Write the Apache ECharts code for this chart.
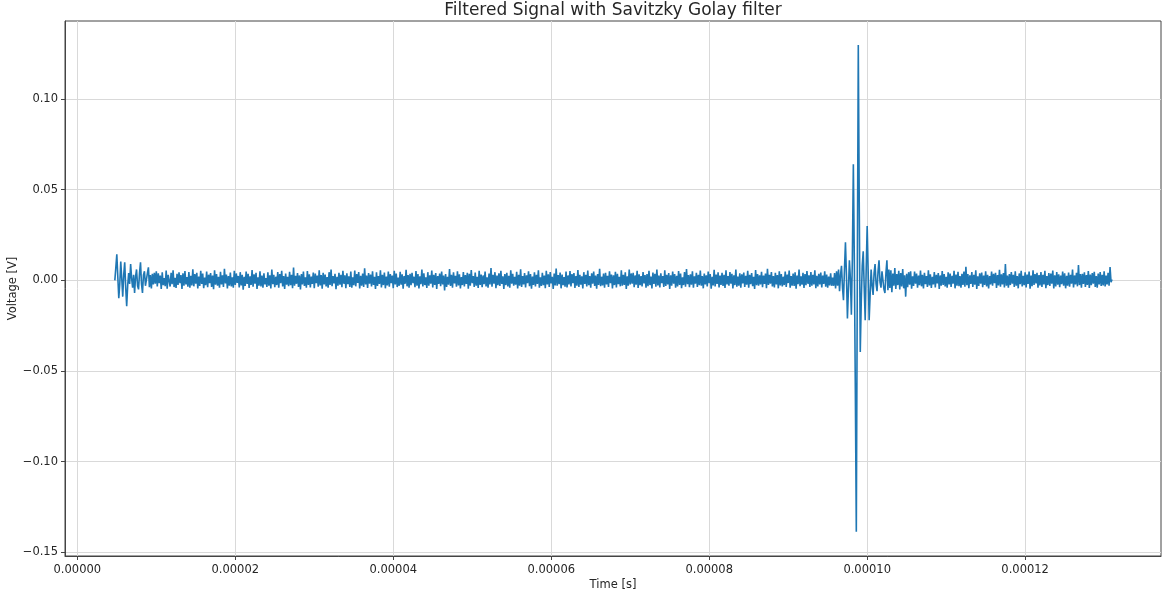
<!DOCTYPE html>
<html>
<head>
<meta charset="utf-8">
<script src="https://cdn.jsdelivr.net/npm/echarts@6/dist/echarts.min.js"></script>
<style>
  html, body { margin: 0; padding: 0; background: #fff; }
  #chart { width: 1163px; height: 592px; }
</style>
</head>
<body>
<div id="chart"></div>
<script>
// chart texts and ticks
const chartTitle = 'Filtered Signal with Savitzky Golay filter';
const xName = 'Time [s]';
const yName = 'Voltage [V]';
const xTicks = [0, 0.00002, 0.00004, 0.00006, 0.00008, 0.0001, 0.00012];
const yTicks = [-0.15, -0.10, -0.05, 0, 0.05, 0.10];

// sampling of the signal (seconds)
const sampleStart = 4.75e-6;
const sampleStep = 1.25e-7;

// filtered voltage, in millivolts
// start-up ringing
const startSegment = [
  0, 7, 14.3, 2, -9.8, -2, 10.3, 1, -9.0, 3, 9.9, -4, -14.2, -3, 4.0, -2, 9.0, 1, -4.0, 3,
  -7.0, 2, 6.0, -3, -5.0, 4, 9.9, -2, -7.0, 3, 5.0, -3, -4.0, 4, 7.2
];
// quiet part before the burst
const quietSegment = [
  -3.8, 2.9, -4.5, 3.6, -2.2, 4.1, -1.8, 5.0, -3.3, 3.9, -1.6, 2.6, -4.8, 4.4, -2.7, 1.2, -3.2, 5.4, -4.6, 3.0,
  2.0, -3.4, 4.1, -2.1, 5.6, -3.7, 1.4, -4.2, 3.6, -2.5, 4.4, -1.6, 2.9, -4.8, 3.9, -3.0, 5.1, -2.3, 1.8, -3.5,
  4.6, -4.0, 2.5, -2.8, 6.1, -3.3, 3.4, -1.9, 4.2, -4.5, 2.1, -3.1, 5.3, -2.0, 3.7, -4.3, 1.5, -2.7, 4.9, -3.8,
  3.1, -1.5, 4.0, -3.6, 2.6, -4.9, 5.5, -2.4, 3.5, -3.0, 1.9, -4.1, 4.7, -2.2, 2.8, -3.7, 6.4, -1.7, 3.2, -4.4,
  2.3, -2.9, 4.3, -3.4, 1.7, -4.0, 5.2, -2.6, 3.8, -1.4, 2.4, -3.9, 4.5, -2.8, 3.0, -5.2, 2.0, -3.1, 4.8, -2.0,
  3.6, -4.2, 2.2, -2.5, 5.7, -3.5, 3.3, -1.8, 4.1, -4.7, 1.6, -2.9, 5.0, -3.3, 2.6, -4.0, 3.9, -2.2, 1.3, -3.6,
  4.4, -3.0, 2.8, -4.5, 6.0, -2.1, 3.1, -3.8, 2.0, -2.6, 4.6, -4.1, 3.5, -1.6, 5.3, -3.4, 2.3, -4.8, 3.8, -2.4,
  1.9, -3.2, 4.7, -2.7, 3.0, -4.3, 7.0, -3.0, 2.5, -1.9, 4.0, -3.6, 2.7, -5.0, 3.4, -2.3, 4.9, -3.1, 1.7, -4.0,
  5.1, -2.5, 3.3, -3.9, 2.1, -2.0, 4.3, -4.4, 3.7, -1.5, 2.6, -3.5, 5.5, -2.8, 2.9, -4.6, 4.1, -2.2, 3.2, -3.3,
  1.8, -4.1, 4.5, -2.6, 5.9, -3.2, 2.4, -1.7, 3.6, -4.9, 2.0, -3.0, 4.2, -2.4, 3.1, -3.8, 5.2, -1.9, 2.8, -4.3,
  3.9, -2.1, 2.2, -3.6, 4.8, -4.0, 1.6, -2.7, 5.4, -3.3, 3.4, -1.4, 4.6, -4.5, 2.5, -2.9, 3.7, -3.7, 6.6, -2.3,
  2.7, -4.2, 4.0, -1.8, 3.2, -3.4, 5.0, -2.5, 1.9, -4.7, 4.4, -3.1, 2.3, -2.0, 5.6, -3.9, 3.0, -2.6, 4.3, -4.4,
  2.1, -2.8, 4.9, -3.5, 3.5, -1.6, 2.6, -4.3, 5.3, -2.2, 3.8, -3.7, 1.5, -3.0, 4.7, -2.4, 3.3, -4.6, 2.4, -1.9,
  5.8, -3.3, 2.9, -4.0, 3.6, -2.7, 4.2, -1.5, 2.0, -3.8, 5.1, -2.9, 3.4, -4.5, 2.2, -2.1, 6.0, -3.4, 3.9, -2.6,
  1.7, -4.2, 4.5, -3.0, 2.8, -1.8, 5.4, -3.9, 3.1, -2.5, 4.0, -4.7, 2.3, -2.0, 3.7, -3.2, 4.8, -2.3, 2.6, -5.6,
  3.5, -3.6, 2.0, -2.4, 6.2, -3.1, 3.0, -4.1, 4.4, -1.7, 2.5, -3.5, 5.0, -2.8, 3.3, -4.4, 1.8, -2.6, 4.6, -3.3,
  2.9, -2.0, 4.1, -4.6, 3.6, -2.9, 5.7, -1.6, 2.4, -3.7, 4.3, -3.0, 2.0, -4.2, 5.2, -2.5, 3.2, -3.8, 2.7, -2.1,
  4.9, -3.4, 1.6, -4.0, 3.8, -2.2, 6.8, -3.5, 3.0, -1.9, 4.5, -4.3, 2.6, -2.7, 3.9, -3.1, 5.3, -2.0, 2.2, -4.8,
  3.4, -2.6, 4.2, -3.3, 2.5, -4.1, 5.5, -1.8, 3.6, -3.0, 1.9, -2.4, 4.7, -4.5, 3.1, -2.9, 6.1, -3.6, 2.3, -2.2,
  4.0, -3.9, 2.8, -1.5, 5.0, -3.2, 3.5, -4.6, 2.1, -2.5, 4.4, -3.4, 3.0, -2.0, 5.6, -4.0, 1.7, -3.1, 4.1, -2.7,
  2.6, -4.3, 5.2, -2.3, 3.3, -3.6, 4.6, -1.7, 2.0, -4.8, 3.7, -2.8, 6.5, -3.0, 2.9, -2.1, 4.3, -4.4, 3.2, -2.6,
  1.8, -3.5, 4.8, -3.9, 2.7, -2.2, 5.1, -3.3, 3.4, -1.6, 4.0, -4.2, 2.4, -2.9, 5.7, -3.7, 3.1, -2.4, 2.2, -4.5,
  4.5, -2.0, 3.0, -3.4, 5.4, -2.7, 2.3, -4.0, 3.9, -1.9, 4.9, -3.1, 2.6, -4.6, 3.5, -2.5, 6.3, -3.2, 2.0, -2.8,
  3.7, -4.1, 4.2, -2.3, 2.5, -3.6, 5.0, -1.5, 3.2, -4.4, 2.8, -2.6, 4.7, -3.9, 3.6, -2.1, 1.9, -3.3, 5.5, -2.9,
  3.0, -2.5, 4.4, -4.7, 2.2, -3.0, 5.9, -2.2, 3.8, -1.8, 4.1, -3.8, 2.7, -2.4, 5.3, -4.2, 3.3, -2.7, 2.4, -3.4,
  4.6, -1.7, 2.9, -4.0, 3.5, -3.2, 5.2, -2.6, 2.1, -4.5, 4.3, -2.0, 3.6, -3.5, 6.0, -2.8, 2.6, -3.9, 3.9, -1.6,
  2.3, -3.7, 5.6, -3.1, 3.1, -2.3, 4.0, -4.8, 2.8, -2.9, 4.8, -1.9, 3.4, -4.1, 2.5, -3.3, 5.1, -2.5, 3.7, -4.3,
  1.6, -2.6, 4.5, -3.5, 6.2, -2.1, 2.9, -3.8, 3.3, -2.4, 5.0, -4.0, 2.2, -1.8, 4.2, -3.6, 3.0, -2.7, 5.4, -3.0,
  2.4, -4.4, 3.8, -2.2, 2.7, -3.3, 4.9, -1.6, 3.5, -4.6, 2.0, -2.8, 5.8, -3.4, 3.2, -2.0, 4.4, -3.9, 2.6, -2.5,
  4.1, -3.1, 3.0, -4.2, 5.5, -2.3, 2.3, -3.0, 4.6, -1.9, 3.6, -4.5, 2.8, -2.6, 6.0, -3.5, 2.1, -2.9, 3.9, -4.0,
  3.3, -1.7, 4.3, -3.6, 2.5, -2.4, 5.2, -4.1, 3.1, -2.1, 4.0, -3.2, 1.9, -4.7, 5.7, -2.7, 3.4, -3.0, 2.7, -2.3,
  4.7, -3.8, 2.6, -2.0, 3.7, -4.3, 6.3, -2.5, 3.0, -1.8, 4.5, -3.4, 2.3, -3.9, 4.1, -2.2, 2.9, -4.4, 5.0, -2.8,
  3.5, -3.3, 2.0, -2.6, 4.8, -3.7, 3.2, -1.5, 5.4, -4.0, 2.4, -2.9, 3.8, -3.1, 4.4, -4.6, 2.7, -2.1, 6.0, -3.2,
  2.2, -2.4, 4.2, -4.2, 3.4, -2.7, 5.1, -1.9, 2.8, -3.6, 4.6, -3.0, 3.1, -2.3, 5.6, -4.3, 2.5, -3.4, 3.6, -2.2,
  4.3, -3.9, 2.6, -2.0, 5.0, -3.5, 3.2, -4.1, 2.1, -2.8, 3.9, -3.0, 1.5
];
// the burst near 0.0001 s
const burstSegment = [
  -3.0, 4.0, -4.5, 5.0, -3.0, 6.0, -6.0, 3.0, 8.0, -4.0, -11.0, 6.0, 21.0, 3.0, -21.0, -5.0, 11.0, 1.0, -19.0, 12.0,
  64.0, 10.0, -60.0, -138.6, 0.0, 129.8, 40.0, -39.5, -12.0, 8.0, 16.0, -4.0, -22.0, 6.0, 30.0, 5.0, -22.0, -8.0, 6.0, -3.0,
  -8.0, 4.0, 9.0, -2.0, -6.0, 5.0, 11.0, -1.0, -4.0, 5.0, 6.0, -5.0, -7.0, 4.0, 11.0
];
// quiet part after the burst
const tailSegment = [
  -5.5, 6.0, -4.2, 5.5, -6.5, 3.8, -3.0, 6.8, -4.8, 3.5, -2.6, 5.2, -5.0, 4.0, -3.4, 6.2, -4.4, 2.8, -9.0, 3.6,
  -3.8, 4.5, -2.4, 5.0, -4.6, 2.2, -3.1, 4.8, -1.9, 3.7, -4.0, 2.6, -2.7, 5.4, -3.3, 3.0, -4.5, 4.2, -2.1, 2.4,
  -3.6, 5.6, -2.8, 3.3, -4.2, 1.9, -2.3, 4.6, -3.9, 3.1, -1.7, 4.0, -4.8, 2.7, -3.0, 5.1, -2.5, 3.5, -3.4, 2.0,
  -4.1, 4.4, -2.2, 3.8, -3.7, 2.5, -1.8, 5.3, -4.4, 3.2, -2.9, 4.7, -3.2, 2.3, -4.0, 3.6, -2.6, 4.9, -3.5, 7.5,
  -2.7, 3.4, -4.3, 2.8, -2.0, 4.5, -3.6, 3.0, -2.4, 5.5, -4.7, 2.2, -3.1, 3.9, -1.9, 4.3, -3.8, 2.6, -2.5, 5.0,
  -3.3, 3.1, -4.5, 2.4, -2.2, 4.8, -3.0, 3.6, -1.6, 4.1, -4.2, 2.9, -2.8, 5.8, -3.5, 3.3, -2.3, 4.0, -3.9, 9.0,
  -3.0, 2.7, -4.1, 3.5, -2.6, 4.6, -1.8, 3.0, -3.7, 5.0, -2.9, 2.4, -4.4, 3.8, -2.1, 5.2, -3.4, 2.5, -2.7, 4.4,
  -3.9, 3.2, -2.0, 4.9, -4.6, 2.6, -3.2, 5.6, -2.5, 3.4, -1.7, 4.2, -4.0, 2.9, -2.8, 4.5, -3.6, 3.1, -2.2, 5.3,
  -4.3, 2.3, -2.6, 4.0, -3.1, 3.7, -1.9, 5.4, -4.5, 2.8, -3.4, 4.6, -2.4, 3.3, -3.8, 2.6, -2.1, 4.8, -3.0, 3.9,
  -4.4, 2.5, -2.9, 4.3, -3.5, 3.0, -1.8, 6.0, -3.9, 2.7, -2.3, 4.1, -3.3, 8.4, -2.6, 3.4, -4.1, 3.6, -2.0, 4.4,
  -3.7, 2.9, -2.5, 5.1, -4.2, 3.2, -2.7, 4.0, -1.8, 4.7, -3.6, 2.4, -4.0, 3.8, -2.2, 4.5, -3.1, 3.0, -2.8, 5.0,
  -3.4, 2.6, -2.3, 4.1, -3.0, 7.3, -1.0, 0.5
];

const voltage_mV = startSegment.concat(quietSegment, burstSegment, tailSegment);
const points = voltage_mV.map((mv, i) => [sampleStart + i * sampleStep, mv / 1000]);

const font = 'DejaVu Sans';
const ink = '#262626';

const chart = echarts.init(document.getElementById('chart'));
chart.setOption({
    animation: false,
    title: {
        text: chartTitle,
        left: 613,
        textAlign: 'center',
        top: 2,
        padding: 0,
        textStyle: { fontFamily: font, fontSize: 17, fontWeight: 'normal', color: ink }
    },
    grid: {
        left: 65,
        right: 2,
        top: 21,
        bottom: 36,
        outerBoundsMode: 'none',
        show: true,
        borderColor: '#444',
        borderWidth: 1,
        backgroundColor: 'transparent'
    },
    xAxis: {
        type: 'value',
        min: -1.56e-6,
        max: 1.372e-4,
        name: xName,
        nameLocation: 'middle',
        nameGap: 23,
        nameMoveOverlap: false,
        nameTextStyle: { fontFamily: font, fontSize: 11.5, color: ink },
        axisLine: { show: true, onZero: false, lineStyle: { color: '#444' } },
        axisTick: { show: true, length: 4, customValues: xTicks, lineStyle: { color: '#444' } },
        axisLabel: {
            customValues: xTicks,
            margin: 8,
            fontFamily: font,
            fontSize: 11.5,
            color: ink,
            formatter: v => v.toFixed(5)
        },
        splitLine: { show: true, lineStyle: { color: '#d9d9d9', width: 1 } }
    },
    yAxis: {
        type: 'value',
        min: -0.152,
        max: 0.143,
        name: yName,
        nameLocation: 'middle',
        nameGap: 46,
        nameMoveOverlap: false,
        nameTextStyle: { fontFamily: font, fontSize: 11.5, color: ink },
        axisLine: { show: true, onZero: false, lineStyle: { color: '#444' } },
        axisTick: { show: true, length: 4, customValues: yTicks, lineStyle: { color: '#444' } },
        axisLabel: {
            customValues: yTicks,
            margin: 7,
            fontFamily: font,
            fontSize: 11.5,
            color: ink,
            formatter: v => v.toFixed(2).replace('-', '\u2212')
        },
        splitLine: { show: true, lineStyle: { color: '#d9d9d9', width: 1 } }
    },
    series: [
        {
            type: 'line',
            data: points,
            showSymbol: false,
            sampling: 'none',
            lineStyle: { color: '#1f77b4', width: 1.6 },
            itemStyle: { color: '#1f77b4' }
        }
    ]
});
</script>
</body>
</html>
